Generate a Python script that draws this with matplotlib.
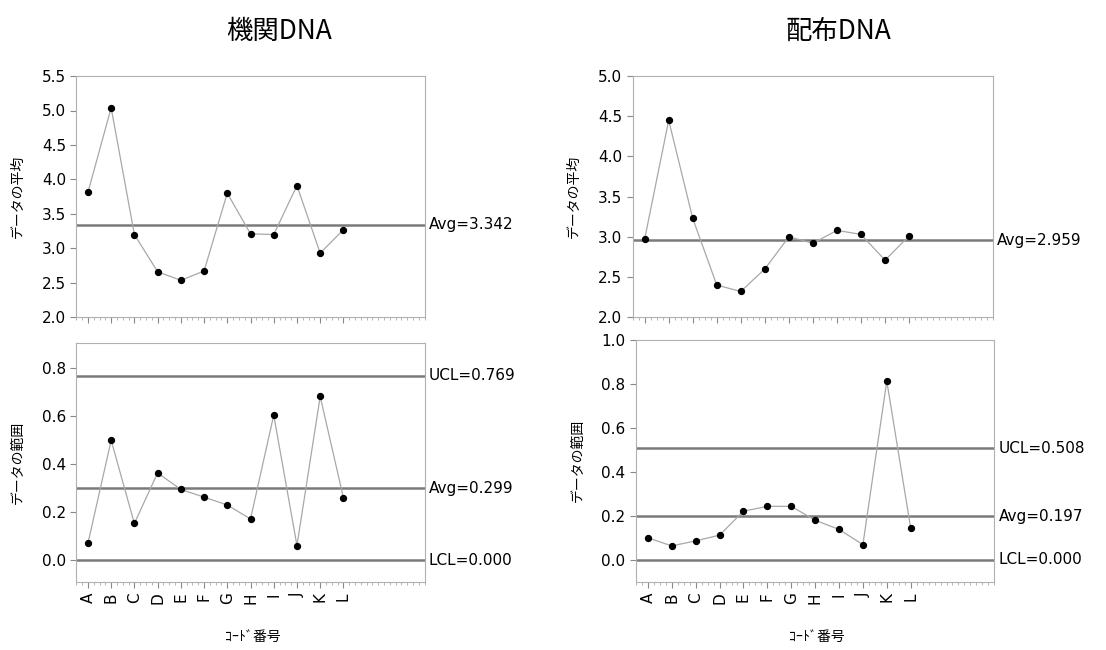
import matplotlib
matplotlib.use("Agg")
import matplotlib.pyplot as plt
from matplotlib.ticker import MultipleLocator, FixedLocator

plt.rcParams["font.family"] = ["DejaVu Sans", "Noto Sans CJK JP"]

codes = ["A", "B", "C", "D", "E", "F", "G", "H", "I", "J", "K", "L"]

# 機関DNA
kikan_mean = [3.81, 5.04, 3.20, 2.66, 2.535, 2.67, 3.80, 3.21, 3.20, 3.91, 2.93, 3.27]
kikan_range = [0.07, 0.50, 0.153, 0.364, 0.295, 0.263, 0.23, 0.172, 0.605, 0.061, 0.683, 0.26]
kikan_mean_avg = 3.342
kikan_range_lims = {"UCL": 0.769, "Avg": 0.299, "LCL": 0.000}

# 配布DNA
haifu_mean = [2.97, 4.45, 3.23, 2.40, 2.32, 2.60, 3.00, 2.92, 3.08, 3.03, 2.71, 3.01]
haifu_range = [0.10, 0.063, 0.086, 0.112, 0.221, 0.243, 0.243, 0.18, 0.138, 0.069, 0.813, 0.144]
haifu_mean_avg = 2.959
haifu_range_lims = {"UCL": 0.508, "Avg": 0.197, "LCL": 0.000}

titles = ["機関DNA", "配布DNA"]

JP = ["Noto Sans CJK JP", "DejaVu Sans"]
LINE_C = "#7a7a7a"
SPINE_C = "#b0b0b0"


def style_axes(ax, show_labels):
    x = list(range(len(codes)))
    ax.set_xlim(-0.5, 14.5)
    ax.xaxis.set_major_locator(FixedLocator(x))
    ax.xaxis.set_minor_locator(MultipleLocator(0.25))
    ax.tick_params(axis="x", which="major", length=4, color="#888888")
    ax.tick_params(axis="x", which="minor", length=2, color="#aaaaaa")
    ax.tick_params(axis="y", length=4, color="#888888", labelsize=11)
    if show_labels:
        ax.set_xticklabels(codes, rotation=90, fontsize=11)
    else:
        ax.set_xticklabels([])
    for s in ax.spines.values():
        s.set_color(SPINE_C)
        s.set_linewidth(0.8)


def draw_series(ax, values):
    x = list(range(len(values)))
    ax.plot(x, values, color="#a8a8a8", lw=0.9, zorder=2)
    ax.scatter(x, values, s=18, color="black", zorder=3)


def hline(ax, y, label):
    ax.axhline(y, color=LINE_C, lw=1.8, zorder=1)
    ax.annotate(label, xy=(1.0, y), xycoords=("axes fraction", "data"),
                xytext=(3, 0), textcoords="offset points",
                va="center", ha="left", fontsize=11)


fig = plt.figure(figsize=(11.06, 6.5), dpi=100)

top_pos = [[0.069, 0.512, 0.315, 0.371], [0.572, 0.512, 0.326, 0.371]]
bot_pos = [[0.069, 0.105, 0.315, 0.367], [0.575, 0.105, 0.324, 0.372]]
title_x = [0.252, 0.758]
xlabel_x = [0.229, 0.739]

means = [kikan_mean, haifu_mean]
mean_avgs = [kikan_mean_avg, haifu_mean_avg]
ranges = [kikan_range, haifu_range]
range_lims = [kikan_range_lims, haifu_range_lims]
mean_ylims = [(2.0, 5.5), (2.0, 5.0)]
range_ylims = [(-0.09, 0.905), (-0.1, 1.0)]

for i in range(2):
    ax = fig.add_axes(top_pos[i])
    draw_series(ax, means[i])
    hline(ax, mean_avgs[i], f"Avg={mean_avgs[i]:.3f}")
    ax.set_ylim(*mean_ylims[i])
    ax.yaxis.set_major_locator(MultipleLocator(0.5))
    ax.yaxis.set_major_formatter(lambda v, p: f"{v:.1f}")
    style_axes(ax, False)
    ax.set_ylabel("データの平均", family=JP, fontsize=10, labelpad=12)
    fig.text(title_x[i], 0.952, titles[i], family=JP, fontsize=19,
             ha="center", va="center")

    ax = fig.add_axes(bot_pos[i])
    draw_series(ax, ranges[i])
    for name, val in range_lims[i].items():
        hline(ax, val, f"{name}={val:.3f}")
    ax.set_ylim(*range_ylims[i])
    ax.yaxis.set_major_locator(MultipleLocator(0.2))
    ax.yaxis.set_major_formatter(lambda v, p: f"{v:.1f}")
    style_axes(ax, True)
    ax.set_ylabel("データの範囲", family=JP, fontsize=10, labelpad=12)
    fig.text(xlabel_x[i], 0.02, "ｺｰﾄﾞ番号", family=JP, fontsize=10,
             ha="center", va="center")

fig.savefig("out.png", dpi=100)
